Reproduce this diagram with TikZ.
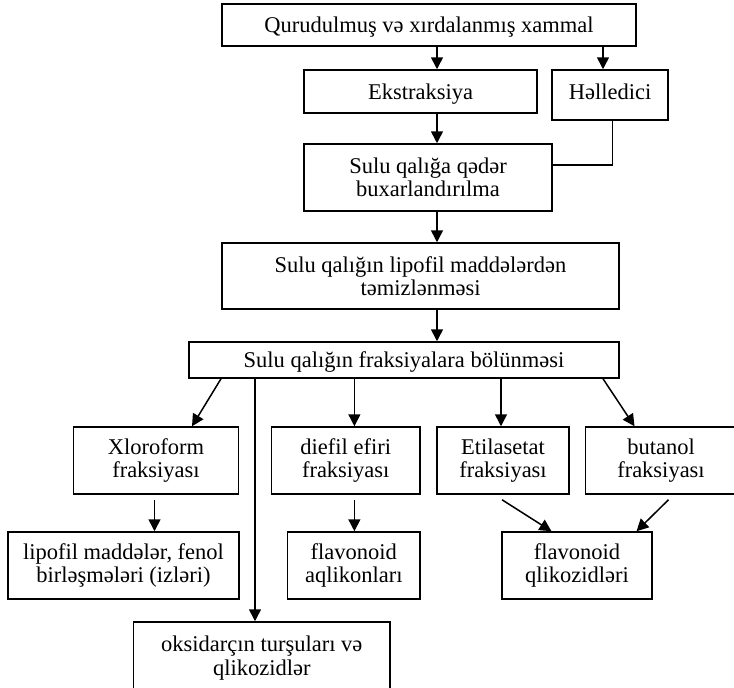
\documentclass[tikz,border=0pt]{standalone}
\usepackage{fontspec}
\setmainfont{Liberation Serif}
\usetikzlibrary{arrows.meta}
\begin{document}
\begin{tikzpicture}[x=1pt,y=-1pt,
  box/.style={draw, line width=1.5pt, inner sep=0pt, align=center, font=\fontsize{22.5}{23.4}\selectfont},
  one/.style={text height=16pt, text depth=1pt},
  arr/.style={line width=1.5pt, -{Triangle[width=12pt,length=12pt]}},
  ln/.style={line width=1.5pt}]
\useasboundingbox (0,0) rectangle (734,688);
\clip (0,0) rectangle (734,688);
\fill[white] (0,0) rectangle (734,688);
% nodes
\node[box,one,minimum width=414pt,minimum height=42pt] (top) at (429,25) {Qurudulmuş və xırdalanmış xammal};
\node[box,one,minimum width=233pt,minimum height=43pt] (ekstr) at (420.5,91.5) {Ekstraksiya};
\node[box,text height=16pt,text depth=7.4pt,minimum width=116pt,minimum height=50pt] (hell) at (610,95) {Həlledici};
\node[box,minimum width=248pt,minimum height=67pt] (sulu1) at (428,177.5) {Sulu qalığa qədər\\buxarlandırılma};
\node[box,minimum width=397pt,minimum height=66pt] (sulu2) at (420.5,276) {Sulu qalığın lipofil maddələrdən\\təmizlənməsi};
\node[box,text height=16pt,text depth=2pt,minimum width=430pt,minimum height=36pt] (frak) at (404,360) {Sulu qalığın fraksiyalara bölünməsi};
\node[box,minimum width=165pt,minimum height=67pt] (xlor) at (156,460.5) {Xloroform\\fraksiyası};
\node[box,minimum width=148.5pt,minimum height=67pt] (dief) at (345.75,460.5) {diefil efiri\\fraksiyası};
\node[box,minimum width=132pt,minimum height=67pt] (etil) at (503,460.5) {Etilasetat\\fraksiyası};
\node[box,minimum width=151pt,minimum height=67pt] (but) at (661,460.5) {butanol\\fraksiyası};
\node[box,minimum width=231pt,minimum height=67pt] (lipo) at (123.5,565.5) {lipofil maddələr, fenol\\birləşmələri (izləri)};
\node[box,minimum width=132.5pt,minimum height=67pt] (flaq) at (353.75,565.5) {flavonoid\\aqlikonları};
\node[box,minimum width=150pt,minimum height=67pt] (flgl) at (577,565.5) {flavonoid\\qlikozidləri};
\node[box,minimum width=256.5pt,minimum height=72pt] (oksi) at (261.75,658) {oksidarçın turşuları və\\qlikozidlər};
% helper coordinates
\coordinate (x437) at (437,0);
\coordinate (x603) at (603,0);
\coordinate (x613) at (612.5,0);
\coordinate (y165) at (0,165);
\coordinate (x221) at (221,0);
\coordinate (x192) at (192,0);
\coordinate (x354) at (354.4,0);
\coordinate (x501) at (501,0);
\coordinate (x634) at (634.5,0);
\coordinate (x255) at (255,0);
\coordinate (x154) at (154.5,0);
\coordinate (x502) at (502,0);
\coordinate (x551) at (551.5,0);
\coordinate (x668) at (668.5,0);
\coordinate (x636) at (636.5,0);
% connectors
\draw[arr] (top.south -| x437) -- (ekstr.north -| x437);
\draw[arr] (top.south -| x603) -- (hell.north -| x603);
\draw[arr] (ekstr.south -| x437) -- (sulu1.north -| x437);
\draw[ln] (hell.south -| x613) |- (sulu1.east |- y165);
\draw[arr] (sulu1.south -| x437) -- (sulu2.north -| x437);
\draw[arr] (sulu2.south -| x437) -- (frak.north -| x437);
\draw[arr] (frak.south -| x221) -- (xlor.north -| x192);
\draw[arr] (frak.south -| x354) -- (dief.north -| x354);
\draw[arr] (frak.south -| x501) -- (etil.north -| x501);
\draw[arr] (frak.south -| x603) -- (but.north -| x634);
\draw[arr] (frak.south -| x255) -- (oksi.north -| x255);
\draw[arr] ([yshift=-5pt]xlor.south -| x154) -- (lipo.north -| x154);
\draw[arr] ([yshift=-5pt]dief.south -| x354) -- (flaq.north -| x354);
\draw[arr] ([yshift=-5pt]etil.south -| x502) -- (flgl.north -| x551);
\draw[arr] ([yshift=-5pt]but.south -| x668) -- (flgl.north -| x636);
\end{tikzpicture}
\end{document}
